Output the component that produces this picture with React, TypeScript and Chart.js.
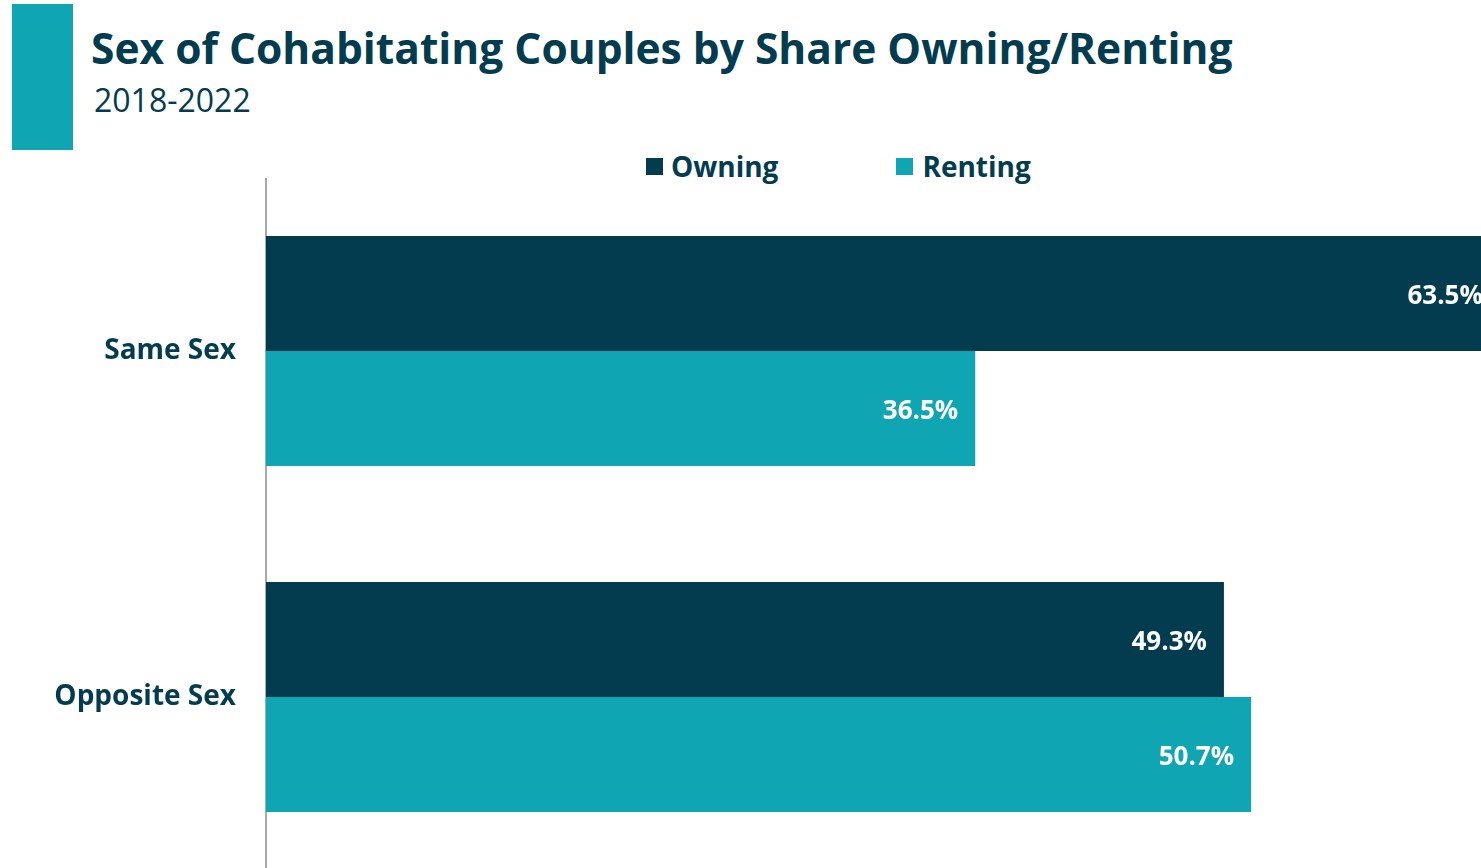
import React, { useEffect, useRef } from "react";
import { Chart, registerables } from "chart.js";

Chart.register(...registerables);

const categories = ["Same Sex", "Opposite Sex"];
const owning = [63.5, 49.3];
const renting = [36.5, 50.7];
const seriesNames = ["Owning", "Renting"];

const NAVY = "#033c4f";
const TEAL = "#10a5b3";
const FONT = "'Open Sans', sans-serif";

const valueLabels = {
  id: "valueLabels",
  afterDatasetsDraw(chart: any) {
    const ctx = chart.ctx;
    ctx.save();
    ctx.font = `bold 26px ${FONT}`;
    ctx.fillStyle = "#ffffff";
    ctx.textAlign = "right";
    ctx.textBaseline = "middle";
    chart.data.datasets.forEach((ds: any, di: number) => {
      const meta = chart.getDatasetMeta(di);
      meta.data.forEach((bar: any, i: number) => {
        ctx.fillText(ds.data[i].toFixed(1) + "%", bar.x - 17, bar.y + 3);
      });
    });
    ctx.restore();
  },
};

export default function App() {
  const ref = useRef<HTMLCanvasElement>(null);
  useEffect(() => {
    document.body.style.margin = "0";
    const chart = new Chart(ref.current!, {
      type: "bar",
      data: {
        labels: categories,
        datasets: [
          { label: seriesNames[0], data: owning, backgroundColor: NAVY },
          { label: seriesNames[1], data: renting, backgroundColor: TEAL },
        ],
      },
      options: {
        indexAxis: "y",
        animation: false,
        responsive: false,
        maintainAspectRatio: false,
        layout: { padding: 0 },
        datasets: { bar: { categoryPercentage: 0.665, barPercentage: 1 } },
        plugins: { legend: { display: false }, tooltip: { enabled: false } },
        scales: {
          x: { display: false, min: 0, max: 65 },
          y: {
            grid: { display: false, drawTicks: false },
            border: { display: true, color: "#aaaaaa", width: 2 },
            ticks: {
              padding: 30,
              color: NAVY,
              font: { family: FONT, size: 28, weight: "bold" },
            },
            afterFit(scale: any) {
              scale.width = 266;
              scale.paddingTop = 0;
              scale.paddingBottom = 0;
            },
          },
        },
      },
      plugins: [valueLabels],
    });
    return () => chart.destroy();
  }, []);

  return (
    <div style={{ position: "fixed", left: 0, top: 0, width: 1481, height: 868, overflow: "hidden", background: "#fff", fontFamily: FONT }}>
      <div style={{ position: "absolute", left: 12, top: 4, width: 61, height: 146, background: TEAL }} />
      <div style={{ position: "absolute", left: 91, top: 18, fontSize: 42.5, fontWeight: 700, color: NAVY, whiteSpace: "nowrap", lineHeight: "60px" }}>
        Sex of Cohabitating Couples by Share Owning/Renting
      </div>
      <div style={{ position: "absolute", left: 94, top: 80, fontSize: 32, fontWeight: 400, color: NAVY, whiteSpace: "nowrap", lineHeight: "40px" }}>
        2018-2022
      </div>
      <div style={{ position: "absolute", left: 646, top: 148, height: 36, display: "flex", alignItems: "center", fontSize: 28, fontWeight: 700, color: NAVY, whiteSpace: "nowrap" }}>
        <span style={{ display: "inline-block", width: 17, height: 17, background: NAVY, marginRight: 8 }} />
        <span>{seriesNames[0]}</span>
        <span style={{ display: "inline-block", width: 17, height: 17, background: TEAL, marginLeft: 118, marginRight: 9 }} />
        <span>{seriesNames[1]}</span>
      </div>
      <canvas ref={ref} width={1529} height={692} style={{ position: "absolute", left: 0, top: 178, width: 1529, height: 692 }} />
    </div>
  );
}
